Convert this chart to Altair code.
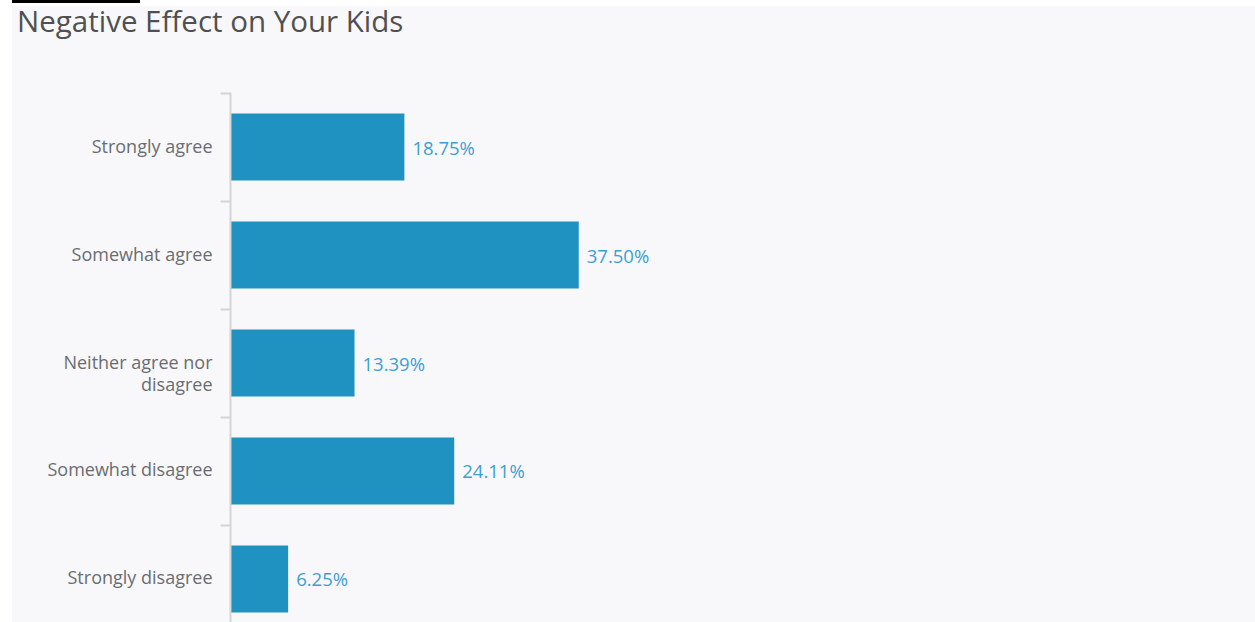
import altair as alt
import pandas as pd

categories = ["Strongly agree", "Somewhat agree", "Neither agree nor disagree",
              "Somewhat disagree", "Strongly disagree"]
values = [18.75, 37.50, 13.39, 24.11, 6.25]
title_text = "Negative Effect on Your Kids"

df = pd.DataFrame({"category": categories, "value": values})
one = pd.DataFrame({"k": [0]})

W, H = 930, 530
PI, PO = 0.38, 0.2
STEP = 542 / (5 - PI + 2 * PO)

bg = alt.Chart(one).mark_rect(color="#f8f8fb").encode(
    x=alt.value(-218), x2=alt.value(W + 95), y=alt.value(-86), y2=alt.value(H + 10)
)
topline = alt.Chart(one).mark_rule(color="#000000", strokeWidth=3).encode(
    x=alt.value(-218), x2=alt.value(-90), y=alt.value(-90.5)
)
title = alt.Chart(one).mark_text(
    text=title_text, align="left", baseline="alphabetic", font="Open Sans",
    fontSize=29.5, color="#505050"
).encode(x=alt.value(-213), y=alt.value(-60))

yenc = alt.Y(
    "category:N", sort=categories, title=None,
    scale=alt.Scale(range=[0, 542], paddingInner=PI, paddingOuter=PO),
    axis=alt.Axis(
        zindex=1, tickOffset=-STEP / 2, labelOffset=STEP / 2, tickSize=10,
        tickColor="#d4d4d4", tickWidth=2,
        domainColor="#d4d4d4", domainWidth=2, labelFont="Open Sans", labelFontSize=18,
        labelColor="#6a6d70", labelPadding=8, labelLineHeight=22, labelLimit=250,
        labelExpr="datum.label == 'Neither agree nor disagree' ? ['Neither agree nor', 'disagree'] : datum.label",
    ),
)
xenc = alt.X("value:Q", scale=alt.Scale(domain=[0, 100]), axis=None)

bars = alt.Chart(df).mark_bar(color="#1f92c1").encode(x=xenc, y=yenc)
labels = alt.Chart(df).transform_calculate(
    lab="format(datum.value, '.2f') + '%'"
).mark_text(
    align="left", baseline="middle", dx=8, dy=1.5, font="Open Sans", fontSize=18.5,
    color="#3d9fd1"
).encode(x=xenc, y=alt.Y("category:N", sort=categories), text="lab:N")

chart = alt.layer(bg, topline, title, bars, labels).properties(
    width=W, height=H,
    autosize=alt.AutoSizeParams(type="none"),
    padding={"left": 230, "top": 92, "right": 95, "bottom": 0},
    background="#ffffff",
).configure_view(stroke=None)

chart.save("out.html", embed_options={"renderer": "svg", "actions": False})
